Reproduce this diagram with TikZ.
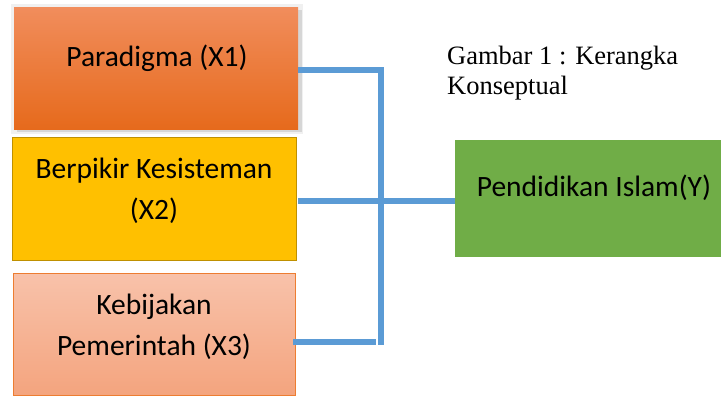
\documentclass[tikz,border=0pt]{standalone}
\usepackage{fontspec}
\setmainfont{Carlito}
\newfontfamily\capfont{Liberation Serif}
\definecolor{linkblue}{HTML}{5B9BD5}
\definecolor{xonetop}{HTML}{F18D5C}
\definecolor{xonebot}{HTML}{E66A1C}
\definecolor{xtwofill}{HTML}{FFC000}
\definecolor{xtwoedge}{HTML}{BF9000}
\definecolor{xthreetop}{HTML}{F8C2AA}
\definecolor{xthreebot}{HTML}{F4A47E}
\definecolor{xthreeedge}{HTML}{ED7D31}
\definecolor{yfill}{HTML}{70AD47}
\tikzset{
  box/.style={rectangle, inner sep=0pt, anchor=north west},
  boxtext/.style={inner sep=0pt, align=center, font=\fontsize{29.5}{41}\selectfont},
  link/.style={draw=linkblue, line width=6pt},
}
\begin{document}
\begin{tikzpicture}[x=1pt,y=-1pt]
\useasboundingbox (0,0) rectangle (721,396);
% shadow of X1
\fill[black!6] (11,4) rectangle (303,134);
\fill[black!16] (17,10) rectangle (302,132);
% boxes
\node[box, minimum width=284pt, minimum height=122pt, top color=xonetop, bottom color=xonebot] (x1) at (14,7) {};
\node[box, minimum width=284pt, minimum height=123pt, fill=xtwofill, draw=xtwoedge, line width=1.2pt] (x2) at (12,137) {};
\node[box, minimum width=282pt, minimum height=122pt, top color=xthreetop, bottom color=xthreebot, draw=xthreeedge, line width=1pt] (x3) at (13,273) {};
\node[box, minimum width=266pt, minimum height=117pt, fill=yfill] (y) at (455,140) {};
% texts
\node[boxtext] (t1) at (157,58) {Paradigma (X1)};
\node[boxtext] (t2) at (154,191) {Berpikir Kesisteman\\(X2)};
\node[boxtext] (t3) at (154,327) {Kebijakan\\Pemerintah (X3)};
\node[boxtext] (ty) at (594,188) {Pendidikan Islam(Y)};
\node[inner sep=0pt, anchor=north west, align=left, font=\capfont\fontsize{26.5}{30}\selectfont] (cap) at (447,46) {Gambar 1 : Kerangka\\Konseptual};
% connectors
\coordinate (c1) at (381,70.5);
\coordinate (c3) at (381,342);
\draw[link] (x1.east |- c1) -- (c1) -- ([yshift=-3pt]c3);
\draw[link] ([xshift=1pt]x2.east |- 0,201) -- (y.west |- 0,201);
\draw[link] ([xshift=-3pt]x3.east |- c3) -- ([xshift=-5pt]c3);
\end{tikzpicture}
\end{document}
